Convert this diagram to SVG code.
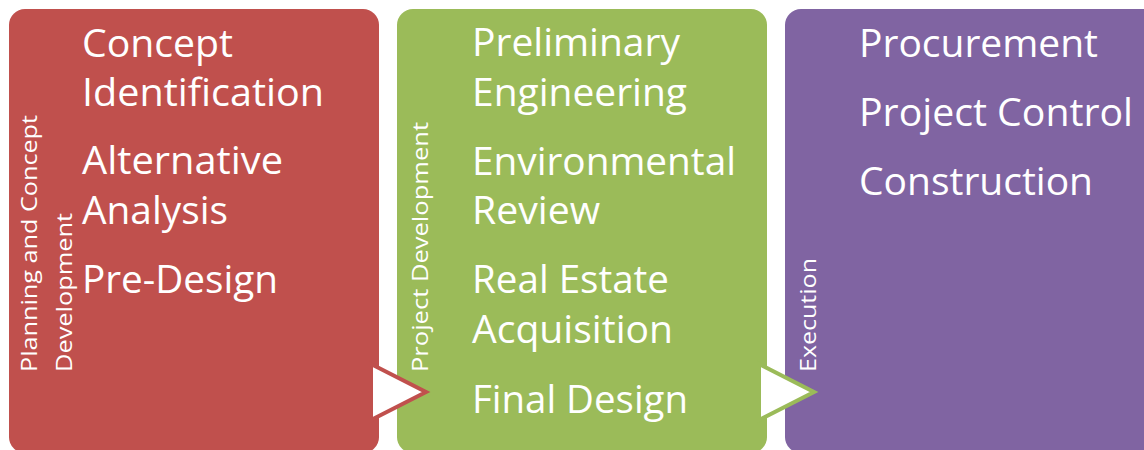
<svg xmlns="http://www.w3.org/2000/svg" width="1144" height="450" viewBox="0 0 1144 450">
<style>
.item{font-family:"Open Sans","Noto Sans","DejaVu Sans",sans-serif;font-size:38px;fill:#fff}
.side{font-family:"Open Sans","Noto Sans","DejaVu Sans",sans-serif;font-size:22px;fill:#fff}
.arrow{fill:#fff;stroke-width:4;stroke-linejoin:miter}
</style>
<rect width="1144" height="450" fill="#fff"/>
<g id="phase-planning">
<rect x="9" y="9" width="370" height="444" rx="16" fill="#C0504D"/>
<text class="side" transform="translate(37,372) rotate(-90)" textLength="257" lengthAdjust="spacingAndGlyphs">Planning and Concept</text>
<text class="side" transform="translate(72,372) rotate(-90)" textLength="159" lengthAdjust="spacingAndGlyphs">Development</text>
<text class="item" x="82" y="57" textLength="151" lengthAdjust="spacingAndGlyphs">Concept</text>
<text class="item" x="82" y="106" textLength="242" lengthAdjust="spacingAndGlyphs">Identification</text>
<text class="item" x="82" y="174" textLength="201" lengthAdjust="spacingAndGlyphs">Alternative</text>
<text class="item" x="82" y="224" textLength="146" lengthAdjust="spacingAndGlyphs">Analysis</text>
<text class="item" x="82" y="293" textLength="196" lengthAdjust="spacingAndGlyphs">Pre-Design</text>
</g>
<g id="phase-project-development">
<rect x="397" y="9" width="370" height="444" rx="16" fill="#9BBB59"/>
<text class="side" transform="translate(428,372) rotate(-90)" textLength="250" lengthAdjust="spacingAndGlyphs">Project Development</text>
<text class="item" x="472" y="56" textLength="208" lengthAdjust="spacingAndGlyphs">Preliminary</text>
<text class="item" x="472" y="106" textLength="215" lengthAdjust="spacingAndGlyphs">Engineering</text>
<text class="item" x="472" y="175" textLength="264" lengthAdjust="spacingAndGlyphs">Environmental</text>
<text class="item" x="472" y="224" textLength="128" lengthAdjust="spacingAndGlyphs">Review</text>
<text class="item" x="472" y="293" textLength="197" lengthAdjust="spacingAndGlyphs">Real Estate</text>
<text class="item" x="472" y="343" textLength="201" lengthAdjust="spacingAndGlyphs">Acquisition</text>
<text class="item" x="472" y="413" textLength="216" lengthAdjust="spacingAndGlyphs">Final Design</text>
</g>
<g id="phase-execution">
<rect x="785" y="9" width="380" height="444" rx="16" fill="#8064A2"/>
<text class="side" transform="translate(816,372) rotate(-90)" textLength="114" lengthAdjust="spacingAndGlyphs">Execution</text>
<text class="item" x="859" y="57" textLength="239" lengthAdjust="spacingAndGlyphs">Procurement</text>
<text class="item" x="859" y="126" textLength="274" lengthAdjust="spacingAndGlyphs">Project Control</text>
<text class="item" x="859" y="195" textLength="234" lengthAdjust="spacingAndGlyphs">Construction</text>
</g>
<g id="connectors">
<polygon class="arrow" points="371,364 426,392 371,420" stroke="#C0504D"/>
<polygon class="arrow" points="759,364 814,392 759,420" stroke="#9BBB59"/>
</g>
</svg>
